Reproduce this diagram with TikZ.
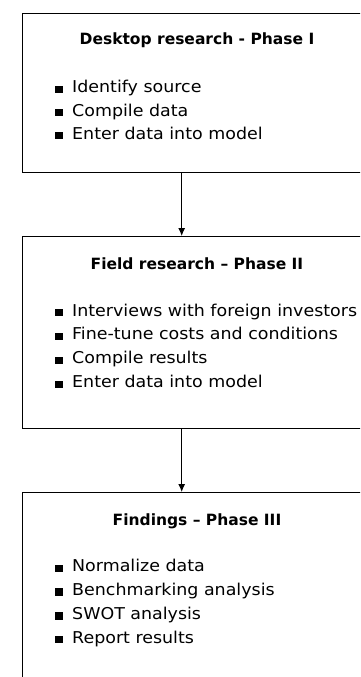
\documentclass[tikz,border=0pt]{standalone}
\usepackage{fontspec}
\setmainfont{DejaVu Sans}
\newfontfamily\itemfont[FakeStretch=1.07]{DejaVu Sans}
\usetikzlibrary{arrows.meta}
\newcommand\sqbul{\rule{7.8pt}{7.2pt}\hspace{9.2pt}}
\begin{document}
\begin{tikzpicture}[x=1pt,y=-1pt,
  phasebox/.style={draw=black, line width=1.4pt, rectangle, anchor=north west, inner sep=0pt, minimum width=352pt},
  ttl/.style={anchor=base, font=\fontsize{15.5}{20}\selectfont\bfseries, inner sep=0pt},
  itm/.style={anchor=base west, font=\itemfont\fontsize{16.3}{20}\selectfont, inner sep=0pt},
  conn/.style={line width=1pt, -{Latex[length=8pt,width=7pt]}}]
\useasboundingbox (0,0) rectangle (360,677);
\clip (0,0) rectangle (360,677);
% boxes
\node[phasebox, minimum height=159.3pt] (p1) at (21.7,12.7) {};
\node[phasebox, minimum height=192pt] (p2) at (21.7,236) {};
\node[phasebox, minimum height=220pt] (p3) at (21.7,492) {};
% titles
\node[ttl] (t1) at (197,45) {Desktop research - Phase I};
\node[ttl] (t2) at (197,269.3) {Field research – Phase II};
\node[ttl] (t3) at (197,525) {Findings – Phase III};
% box 1 items
\node[itm] (a1) at (55,92.7) {\sqbul Identify source};
\node[itm] (a2) at (55,116) {\sqbul Compile data};
\node[itm] (a3) at (55,139.3) {\sqbul Enter data into model};
% box 2 items
\node[itm] (b1) at (55,316) {\sqbul Interviews with foreign investors};
\node[itm] (b2) at (55,339.9) {\sqbul Fine-tune costs and conditions};
\node[itm] (b3) at (55,363.8) {\sqbul Compile results};
\node[itm] (b4) at (55,387.7) {\sqbul Enter data into model};
% box 3 items
\node[itm] (c1) at (55,571.7) {\sqbul Normalize data};
\node[itm] (c2) at (55,595.6) {\sqbul Benchmarking analysis};
\node[itm] (c3) at (55,619.5) {\sqbul SWOT analysis};
\node[itm] (c4) at (55,643.3) {\sqbul Report results};
% connectors
\coordinate (ax) at (181.7,0);
\draw[conn] (p1.south -| ax) -- (p2.north -| ax);
\draw[conn] (p2.south -| ax) -- (p3.north -| ax);
\end{tikzpicture}
\end{document}
